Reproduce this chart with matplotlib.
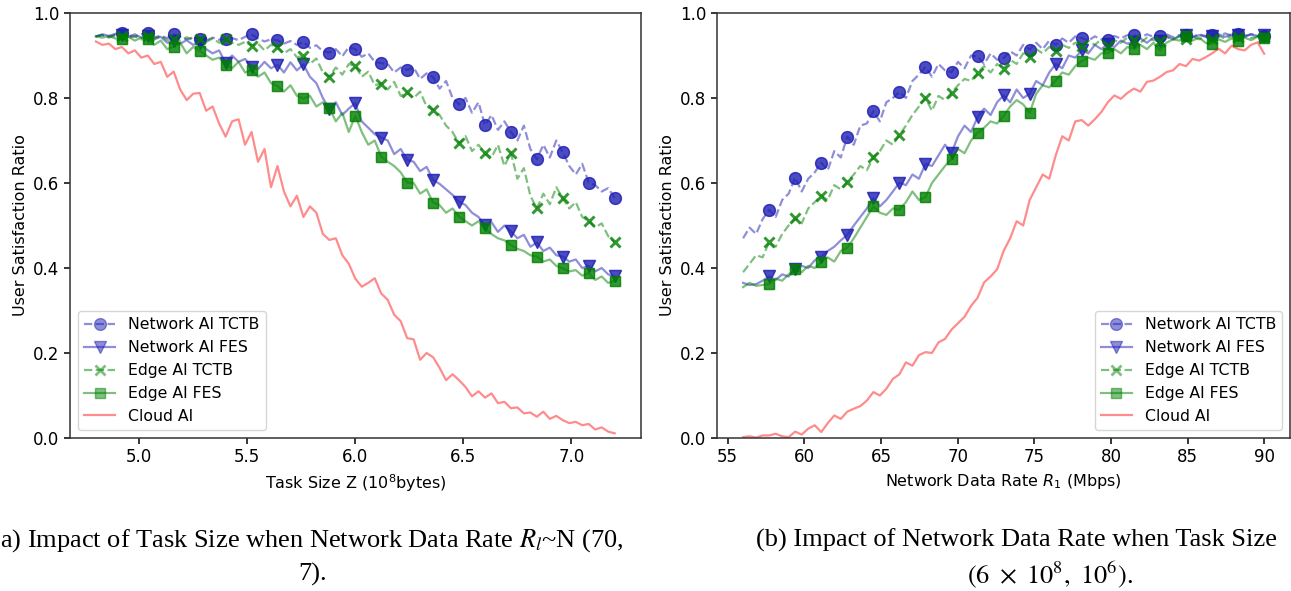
import numpy as np
import matplotlib.pyplot as plt

# ---- panel (a): task size sweep (10^8 bytes) ----
task_size = np.linspace(4.8, 7.2, 81)

a_net_tctb = [0.945, 0.948, 0.944, 0.949, 0.953, 0.947, 0.944, 0.950, 0.953, 0.943,
              0.946, 0.941, 0.950, 0.944, 0.938, 0.942, 0.939, 0.935, 0.942, 0.937,
              0.939, 0.941, 0.936, 0.944, 0.950, 0.940, 0.933, 0.938, 0.936, 0.928,
              0.934, 0.925, 0.932, 0.918, 0.924, 0.910, 0.907, 0.915, 0.898, 0.920,
              0.915, 0.897, 0.905, 0.885, 0.882, 0.880, 0.860, 0.872, 0.866, 0.872,
              0.845, 0.858, 0.849, 0.822, 0.840, 0.800, 0.785, 0.800, 0.765, 0.790,
              0.736, 0.760, 0.725, 0.745, 0.720, 0.700, 0.735, 0.680, 0.656, 0.690,
              0.660, 0.700, 0.672, 0.640, 0.620, 0.645, 0.601, 0.595, 0.580, 0.588,
              0.565]
a_net_fes = [0.945, 0.950, 0.946, 0.951, 0.948, 0.944, 0.950, 0.942, 0.945, 0.938,
             0.944, 0.930, 0.935, 0.928, 0.936, 0.925, 0.930, 0.915, 0.905, 0.912,
             0.882, 0.900, 0.885, 0.892, 0.874, 0.868, 0.885, 0.870, 0.878, 0.860,
             0.884, 0.865, 0.879, 0.850, 0.835, 0.800, 0.774, 0.790, 0.760, 0.775,
             0.788, 0.745, 0.730, 0.715, 0.707, 0.700, 0.668, 0.680, 0.654, 0.650,
             0.628, 0.638, 0.607, 0.598, 0.585, 0.572, 0.556, 0.548, 0.530, 0.520,
             0.501, 0.508, 0.485, 0.500, 0.486, 0.470, 0.478, 0.450, 0.460, 0.440,
             0.448, 0.430, 0.427, 0.415, 0.420, 0.400, 0.405, 0.392, 0.400, 0.385,
             0.380]
a_edge_tctb = [0.945, 0.948, 0.942, 0.947, 0.945, 0.941, 0.946, 0.938, 0.945, 0.940,
               0.946, 0.936, 0.940, 0.935, 0.943, 0.937, 0.940, 0.932, 0.940, 0.930,
               0.938, 0.930, 0.925, 0.932, 0.923, 0.928, 0.912, 0.925, 0.919, 0.905,
               0.915, 0.896, 0.899, 0.880, 0.893, 0.860, 0.850, 0.872, 0.855, 0.880,
               0.875, 0.850, 0.862, 0.830, 0.834, 0.820, 0.838, 0.805, 0.813, 0.800,
               0.815, 0.780, 0.772, 0.760, 0.735, 0.720, 0.693, 0.710, 0.675, 0.690,
               0.670, 0.660, 0.690, 0.640, 0.671, 0.610, 0.635, 0.570, 0.540, 0.575,
               0.550, 0.590, 0.564, 0.540, 0.555, 0.520, 0.511, 0.495, 0.505, 0.475,
               0.460]
a_edge_fes = [0.945, 0.942, 0.946, 0.940, 0.938, 0.944, 0.935, 0.942, 0.940, 0.925,
              0.935, 0.915, 0.921, 0.930, 0.905, 0.920, 0.911, 0.900, 0.890, 0.895,
              0.878, 0.870, 0.885, 0.860, 0.866, 0.850, 0.860, 0.835, 0.828, 0.815,
              0.830, 0.805, 0.799, 0.805, 0.780, 0.790, 0.776, 0.745, 0.765, 0.720,
              0.758, 0.720, 0.690, 0.700, 0.662, 0.650, 0.640, 0.625, 0.601, 0.600,
              0.575, 0.585, 0.554, 0.548, 0.530, 0.540, 0.521, 0.510, 0.500, 0.510,
              0.493, 0.480, 0.470, 0.465, 0.454, 0.445, 0.440, 0.430, 0.427, 0.415,
              0.420, 0.405, 0.399, 0.392, 0.395, 0.382, 0.388, 0.372, 0.380, 0.365,
              0.370]
a_cloud = [0.933, 0.925, 0.928, 0.915, 0.920, 0.905, 0.912, 0.895, 0.900, 0.880,
           0.885, 0.850, 0.862, 0.820, 0.795, 0.810, 0.812, 0.770, 0.780, 0.740,
           0.709, 0.745, 0.750, 0.690, 0.720, 0.650, 0.680, 0.590, 0.640, 0.580,
           0.545, 0.570, 0.520, 0.545, 0.530, 0.480, 0.466, 0.470, 0.430, 0.410,
           0.375, 0.356, 0.365, 0.376, 0.340, 0.325, 0.290, 0.275, 0.235, 0.232,
           0.184, 0.200, 0.190, 0.165, 0.136, 0.150, 0.136, 0.120, 0.098, 0.110,
           0.095, 0.105, 0.082, 0.085, 0.070, 0.072, 0.058, 0.060, 0.050, 0.062,
           0.045, 0.052, 0.042, 0.035, 0.038, 0.030, 0.033, 0.020, 0.025, 0.015,
           0.011]

# ---- panel (b): network data rate sweep (Mbps) ----
data_rate = np.linspace(56, 90, 81)

b_net_tctb = [0.470, 0.495, 0.480, 0.515, 0.537, 0.520, 0.560, 0.575, 0.6125, 0.580,
              0.610, 0.625, 0.648, 0.630, 0.675, 0.660, 0.709, 0.690, 0.735, 0.740,
              0.769, 0.745, 0.790, 0.800, 0.814, 0.800, 0.840, 0.855, 0.873, 0.850,
              0.880, 0.865, 0.861, 0.885, 0.870, 0.900, 0.898, 0.880, 0.905, 0.890,
              0.894, 0.910, 0.900, 0.925, 0.914, 0.930, 0.915, 0.935, 0.925, 0.940,
              0.930, 0.945, 0.941, 0.935, 0.945, 0.938, 0.9375, 0.946, 0.940, 0.948,
              0.948, 0.942, 0.950, 0.944, 0.945, 0.950, 0.943, 0.948, 0.948, 0.944,
              0.950, 0.946, 0.948, 0.945, 0.952, 0.947, 0.951, 0.946, 0.950, 0.945,
              0.947]
b_net_fes = [0.365, 0.360, 0.362, 0.370, 0.380, 0.372, 0.385, 0.380, 0.398, 0.405,
             0.400, 0.418, 0.427, 0.440, 0.450, 0.465, 0.478, 0.500, 0.520, 0.540,
             0.564, 0.545, 0.560, 0.580, 0.601, 0.595, 0.620, 0.610, 0.645, 0.640,
             0.665, 0.690, 0.671, 0.710, 0.735, 0.720, 0.755, 0.775, 0.760, 0.790,
             0.806, 0.790, 0.820, 0.800, 0.810, 0.840, 0.830, 0.860, 0.880, 0.870,
             0.900, 0.895, 0.912, 0.905, 0.925, 0.915, 0.927, 0.920, 0.935, 0.928,
             0.931, 0.940, 0.930, 0.942, 0.935, 0.945, 0.938, 0.946, 0.948, 0.942,
             0.948, 0.944, 0.947, 0.950, 0.944, 0.949, 0.948, 0.944, 0.950, 0.946,
             0.948]
b_edge_tctb = [0.390, 0.410, 0.430, 0.425, 0.461, 0.450, 0.480, 0.500, 0.517, 0.505,
               0.540, 0.555, 0.570, 0.560, 0.595, 0.585, 0.603, 0.620, 0.640, 0.630,
               0.660, 0.675, 0.700, 0.690, 0.7125, 0.735, 0.760, 0.780, 0.800, 0.770,
               0.805, 0.795, 0.8125, 0.830, 0.845, 0.840, 0.859, 0.875, 0.860, 0.880,
               0.869, 0.890, 0.880, 0.905, 0.896, 0.915, 0.905, 0.920, 0.910, 0.925,
               0.918, 0.930, 0.923, 0.935, 0.925, 0.938, 0.923, 0.936, 0.930, 0.942,
               0.9375, 0.930, 0.942, 0.936, 0.935, 0.944, 0.938, 0.945, 0.940, 0.946,
               0.938, 0.944, 0.940, 0.946, 0.940, 0.945, 0.943, 0.947, 0.941, 0.946,
               0.943]
b_edge_fes = [0.355, 0.365, 0.358, 0.360, 0.362, 0.375, 0.370, 0.385, 0.397, 0.390,
              0.405, 0.400, 0.414, 0.425, 0.415, 0.440, 0.448, 0.470, 0.495, 0.520,
              0.545, 0.530, 0.525, 0.540, 0.537, 0.555, 0.580, 0.560, 0.567, 0.600,
              0.620, 0.640, 0.657, 0.680, 0.670, 0.700, 0.718, 0.730, 0.745, 0.740,
              0.758, 0.780, 0.795, 0.785, 0.765, 0.810, 0.830, 0.825, 0.841, 0.860,
              0.855, 0.875, 0.887, 0.895, 0.890, 0.905, 0.906, 0.915, 0.905, 0.920,
              0.916, 0.925, 0.915, 0.930, 0.912, 0.930, 0.938, 0.935, 0.947, 0.935,
              0.942, 0.930, 0.927, 0.938, 0.932, 0.940, 0.935, 0.942, 0.936, 0.944,
              0.941]
b_cloud = [0.002, 0.004, 0.001, 0.006, 0.006, 0.010, 0.004, 0.002, 0.015, 0.008,
           0.022, 0.030, 0.014, 0.035, 0.053, 0.045, 0.062, 0.069, 0.075, 0.088,
           0.108, 0.100, 0.116, 0.139, 0.150, 0.178, 0.170, 0.195, 0.202, 0.200,
           0.225, 0.233, 0.255, 0.270, 0.285, 0.311, 0.330, 0.366, 0.380, 0.397,
           0.440, 0.470, 0.510, 0.500, 0.560, 0.590, 0.620, 0.610, 0.665, 0.710,
           0.700, 0.745, 0.748, 0.735, 0.750, 0.767, 0.790, 0.806, 0.798, 0.812,
           0.822, 0.815, 0.838, 0.841, 0.850, 0.861, 0.865, 0.880, 0.875, 0.892,
           0.888, 0.896, 0.905, 0.916, 0.905, 0.923, 0.915, 0.912, 0.925, 0.931,
           0.904]

labels = ["Network AI TCTB", "Network AI FES", "Edge AI TCTB", "Edge AI FES", "Cloud AI"]
BLUE = "#1f1fb4"
GREEN = "#008000"
RED = "#ff0000"
MARK = (4, 4)


def draw_panel(ax, x, series, xlabel, legend_loc):
    net_tctb, net_fes, edge_tctb, edge_fes, cloud = series
    styles = [
        (net_tctb, BLUE, "--", "o", 8.5),
        (net_fes, BLUE, "-", "v", 8.5),
        (edge_tctb, GREEN, "--", "x", 7.5),
        (edge_fes, GREEN, "-", "s", 7.5),
    ]
    for (y, c, ls, m, ms), lab in zip(styles, labels):
        ax.plot(x, y, color=c, ls=ls, lw=1.6, marker=m, ms=ms, mew=2 if m == "x" else 1,
                markevery=MARK, alpha=0.5, label=lab)
        # darker markers on top of the faint lines
        ax.plot(x, y, ls="none", color=c, marker=m, ms=ms, mew=2 if m == "x" else 1,
                markevery=MARK, alpha=0.6)
    ax.plot(x, cloud, color=RED, lw=1.6, alpha=0.45, label=labels[4])

    ax.set_ylim(0, 1.0)
    ax.set_ylabel("User Satisfaction Ratio", fontsize=11.5)
    ax.set_xlabel(xlabel, fontsize=11.5)
    ax.tick_params(labelsize=12, length=4, width=1.1)
    for s in ax.spines.values():
        s.set_linewidth(1.1)
        s.set_color("#333333")
    ax.legend(loc=legend_loc, fontsize=11.3, handlelength=2.0)


fig = plt.figure(figsize=(12.91, 5.91), dpi=100)
ax1 = fig.add_axes([0.0542, 0.2589, 0.4420, 0.7191])
ax2 = fig.add_axes([0.5554, 0.2589, 0.4440, 0.7191])

draw_panel(ax1, task_size, [a_net_tctb, a_net_fes, a_edge_tctb, a_edge_fes, a_cloud],
           "Task Size Z (10$^8$bytes)", "lower left")
draw_panel(ax2, data_rate, [b_net_tctb, b_net_fes, b_edge_tctb, b_edge_fes, b_cloud],
           "Network Data Rate $R_1$ (Mbps)", "lower right")

cap = dict(family="Liberation Serif", fontsize=19, math_fontfamily="stix")
fig.text(0.0, 0.085, "a) Impact of Task Size when Network Data Rate $\\it{R_l}$~N (70,",
         ha="left", va="center", **cap)
fig.text(0.242, 0.028, "7).", ha="center", va="center", **cap)
fig.text(0.5855, 0.085, "(b) Impact of Network Data Rate when Task Size",
         ha="left", va="center", **cap)
fig.text(0.813, 0.028, "$(6\\ \\times\\ 10^{8},\\ 10^{6})$.", ha="center", va="center", **cap)

fig.savefig("out.png", dpi=100)
